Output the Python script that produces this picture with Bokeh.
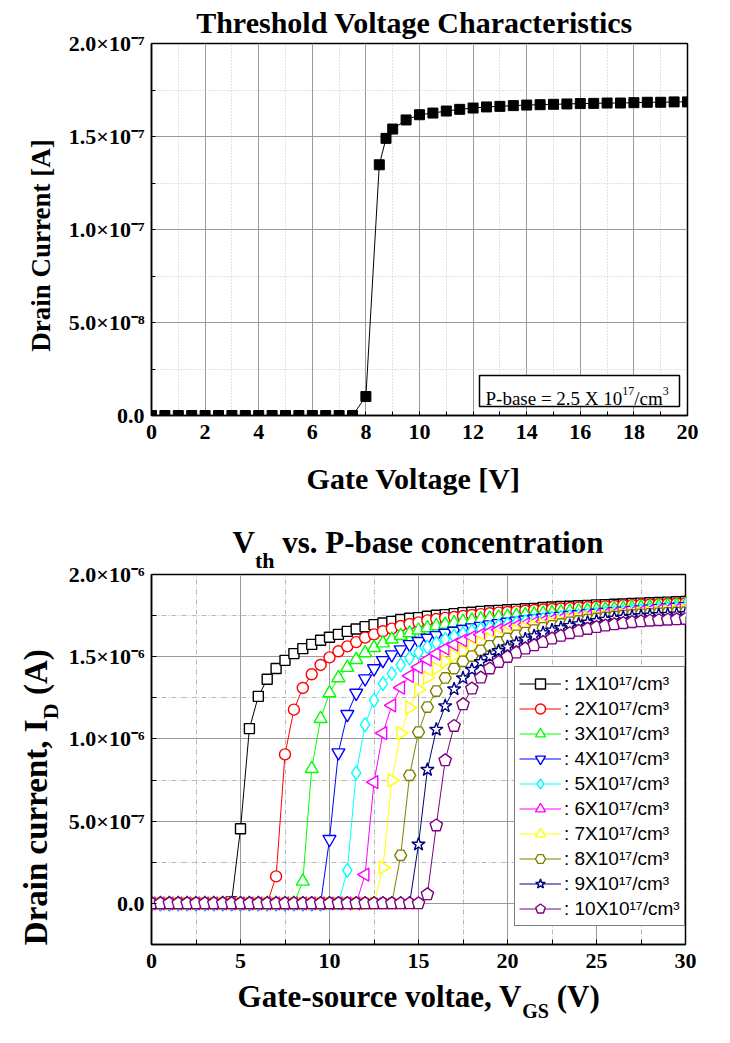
import math
from bokeh.plotting import figure
from bokeh.models import (ColumnDataSource, Legend, LegendItem, FixedTicker, BoxAnnotation,
                          Range1d, LinearAxis, Label)
from bokeh.layouts import column
from bokeh.embed import file_html
from bokeh.resources import INLINE

# ---------------- data: top chart (Threshold Voltage Characteristics) ----------------
gate_v = [0.0, 0.5, 1.0, 1.5, 2.0, 2.5, 3.0, 3.5, 4.0, 4.5, 5.0, 5.5, 6.0, 6.5, 7.0, 7.5,
          8.0, 8.5, 8.75, 9.0, 9.5, 10.0, 10.5, 11.0, 11.5, 12.0, 12.5, 13.0, 13.5, 14.0,
          14.5, 15.0, 15.5, 16.0, 16.5, 17.0, 17.5, 18.0, 18.5, 19.0, 19.5, 20.0]
drain_i = [0, 0, 0, 0, 0, 0, 0, 0, 0, 0, 0, 0, 0, 0, 0, 0,
           1.02e-8, 1.348e-7, 1.49e-7, 1.54e-7, 1.589e-7, 1.617e-7, 1.626e-7, 1.637e-7,
           1.646e-7, 1.653e-7, 1.659e-7, 1.662e-7, 1.666e-7, 1.669e-7, 1.671e-7, 1.673e-7,
           1.675e-7, 1.677e-7, 1.678e-7, 1.680e-7, 1.680e-7, 1.682e-7, 1.684e-7, 1.684e-7,
           1.686e-7, 1.686e-7]
top_x_ticks = [0, 2, 4, 6, 8, 10, 12, 14, 16, 18, 20]
top_x_minor = [1, 3, 5, 7, 9, 11, 13, 15, 17, 19]
top_y_ticks = [0.0, 5e-8, 1e-7, 1.5e-7, 2e-7]
top_y_minor = [2.5e-8, 7.5e-8, 1.25e-7, 1.75e-7]
top_y_labels = ["0.0", "5.0\u00d710\u207b\u2078", "1.0\u00d710\u207b\u2077", "1.5\u00d710\u207b\u2077",
                "2.0\u00d710\u207b\u2077"]

# ---------------- data: bottom chart (Vth vs. P-base concentration), current in uA ----------------
vgs = [0.0, 0.5, 1.0, 1.5, 2.0, 2.5, 3.0, 3.5, 4.0, 4.5, 5.0, 5.5, 6.0, 6.5, 7.0, 7.5, 8.0, 8.5,
       9.0, 9.5, 10.0, 10.5, 11.0, 11.5, 12.0, 12.5, 13.0, 13.5, 14.0, 14.5, 15.0, 15.5, 16.0,
       16.5, 17.0, 17.5, 18.0, 18.5, 19.0, 19.5, 20.0, 20.5, 21.0, 21.5, 22.0, 22.5, 23.0, 23.5,
       24.0, 24.5, 25.0, 25.5, 26.0, 26.5, 27.0, 27.5, 28.0, 28.5, 29.0, 29.5, 30.0]
id_1e17 = [0, 0, 0, 0, 0, 0, 0, 0, 0, 0.01,
           0.454, 1.063, 1.259, 1.363, 1.428, 1.478, 1.519, 1.549, 1.575, 1.600,
           1.618, 1.636, 1.654, 1.669, 1.683, 1.695, 1.705, 1.715, 1.726, 1.734,
           1.738, 1.746, 1.752, 1.756, 1.762, 1.768, 1.770, 1.776, 1.780, 1.782,
           1.786, 1.788, 1.792, 1.794, 1.799, 1.802, 1.805, 1.807, 1.810, 1.812,
           1.815, 1.817, 1.819, 1.821, 1.824, 1.826, 1.828, 1.830, 1.832, 1.834,
           1.836]
id_2e17 = [0, 0, 0, 0, 0, 0, 0, 0, 0, 0,
           0, 0, 0, 0, 0.164, 0.906, 1.178, 1.310, 1.393, 1.450,
           1.496, 1.533, 1.563, 1.589, 1.616, 1.636, 1.655, 1.671, 1.687, 1.699,
           1.709, 1.721, 1.729, 1.736, 1.742, 1.748, 1.754, 1.759, 1.764, 1.768,
           1.772, 1.776, 1.780, 1.784, 1.787, 1.790, 1.793, 1.796, 1.799, 1.802,
           1.804, 1.807, 1.809, 1.812, 1.814, 1.816, 1.818, 1.820, 1.822, 1.824,
           1.826]
id_3e17 = [0, 0, 0, 0, 0, 0, 0, 0, 0, 0,
           0, 0, 0, 0, 0, 0, 0, 0.134, 0.819, 1.123,
           1.279, 1.371, 1.434, 1.482, 1.523, 1.555, 1.583, 1.606, 1.628, 1.644,
           1.661, 1.675, 1.687, 1.697, 1.706, 1.714, 1.721, 1.728, 1.734, 1.740,
           1.745, 1.750, 1.755, 1.759, 1.763, 1.767, 1.771, 1.775, 1.778, 1.782,
           1.785, 1.788, 1.791, 1.794, 1.797, 1.800, 1.803, 1.806, 1.809, 1.812,
           1.815]
id_4e17 = [0, 0, 0, 0, 0, 0, 0, 0, 0, 0,
           0, 0, 0, 0, 0, 0, 0, 0, 0, 0,
           0.390, 0.917, 1.150, 1.279, 1.367, 1.428, 1.478, 1.513, 1.543, 1.575,
           1.594, 1.614, 1.630, 1.644, 1.656, 1.667, 1.677, 1.686, 1.695, 1.703,
           1.711, 1.718, 1.725, 1.731, 1.737, 1.742, 1.747, 1.752, 1.757, 1.762,
           1.766, 1.770, 1.774, 1.778, 1.782, 1.786, 1.790, 1.794, 1.798, 1.802,
           1.806]
id_5e17 = [0, 0, 0, 0, 0, 0, 0, 0, 0, 0,
           0, 0, 0, 0, 0, 0, 0, 0, 0, 0,
           0, 0, 0.201, 0.793, 1.087, 1.235, 1.336, 1.397, 1.450, 1.492,
           1.527, 1.559, 1.583, 1.606, 1.625, 1.641, 1.655, 1.667, 1.678, 1.688,
           1.697, 1.705, 1.713, 1.720, 1.727, 1.733, 1.739, 1.744, 1.749, 1.754,
           1.759, 1.763, 1.767, 1.771, 1.775, 1.779, 1.783, 1.787, 1.790, 1.793,
           1.796]
id_6e17 = [0, 0, 0, 0, 0, 0, 0, 0, 0, 0,
           0, 0, 0, 0, 0, 0, 0, 0, 0, 0,
           0, 0, 0, 0, 0.175, 0.738, 1.036, 1.204, 1.312, 1.383,
           1.437, 1.482, 1.519, 1.549, 1.574, 1.600, 1.619, 1.635, 1.650, 1.663,
           1.675, 1.686, 1.696, 1.705, 1.713, 1.721, 1.728, 1.734, 1.740, 1.746,
           1.751, 1.756, 1.761, 1.765, 1.769, 1.773, 1.777, 1.780, 1.783, 1.786,
           1.789]
id_7e17 = [0, 0, 0, 0, 0, 0, 0, 0, 0, 0,
           0, 0, 0, 0, 0, 0, 0, 0, 0, 0,
           0, 0, 0, 0, 0, 0, 0.217, 0.748, 1.035, 1.190,
           1.300, 1.373, 1.430, 1.472, 1.507, 1.535, 1.563, 1.587, 1.608, 1.627,
           1.644, 1.659, 1.673, 1.685, 1.696, 1.706, 1.715, 1.723, 1.730, 1.736,
           1.742, 1.747, 1.752, 1.756, 1.760, 1.764, 1.768, 1.771, 1.774, 1.777,
           1.780]
id_8e17 = [0, 0, 0, 0, 0, 0, 0, 0, 0, 0,
           0, 0, 0, 0, 0, 0, 0, 0, 0, 0,
           0, 0, 0, 0, 0, 0, 0, 0, 0.292, 0.779,
           1.042, 1.194, 1.291, 1.371, 1.428, 1.472, 1.504, 1.539, 1.566, 1.590,
           1.611, 1.630, 1.647, 1.662, 1.676, 1.688, 1.699, 1.709, 1.718, 1.726,
           1.733, 1.739, 1.745, 1.750, 1.754, 1.758, 1.761, 1.764, 1.767, 1.769,
           1.771]
id_9e17 = [0, 0, 0, 0, 0, 0, 0, 0, 0, 0,
           0, 0, 0, 0, 0, 0, 0, 0, 0, 0,
           0, 0, 0, 0, 0, 0, 0, 0, 0, 0,
           0.359, 0.813, 1.057, 1.200, 1.303, 1.370, 1.421, 1.468, 1.502, 1.535,
           1.559, 1.583, 1.606, 1.626, 1.644, 1.661, 1.675, 1.688, 1.699, 1.709,
           1.718, 1.726, 1.733, 1.739, 1.744, 1.748, 1.751, 1.754, 1.756, 1.758,
           1.760]
id_10e17 = [0, 0, 0, 0, 0, 0, 0, 0, 0, 0,
            0, 0, 0, 0, 0, 0, 0, 0, 0, 0,
            0, 0, 0, 0, 0, 0, 0, 0, 0, 0,
            0.0, 0.055, 0.474, 0.870, 1.079, 1.210, 1.306, 1.373, 1.428, 1.468,
            1.498, 1.525, 1.549, 1.569, 1.589, 1.610, 1.627, 1.643, 1.657, 1.669,
            1.680, 1.689, 1.697, 1.704, 1.710, 1.715, 1.719, 1.722, 1.725, 1.727,
            1.729]
conc_labels = [": 1X10\u00b9\u2077/cm\u00b3", ": 2X10\u00b9\u2077/cm\u00b3", ": 3X10\u00b9\u2077/cm\u00b3",
               ": 4X10\u00b9\u2077/cm\u00b3", ": 5X10\u00b9\u2077/cm\u00b3", ": 6X10\u00b9\u2077/cm\u00b3",
               ": 7X10\u00b9\u2077/cm\u00b3", ": 8X10\u00b9\u2077/cm\u00b3", ": 9X10\u00b9\u2077/cm\u00b3",
               ": 10X10\u00b9\u2077/cm\u00b3"]
series_vals = [id_1e17, id_2e17, id_3e17, id_4e17, id_5e17, id_6e17, id_7e17, id_8e17, id_9e17, id_10e17]
series_colors = ["#000000", "#ff0000", "#00ff00", "#0000ff", "#00ffff", "#ff00ff",
                 "#ffff00", "#808000", "#000080", "#800080"]
series_markers = ["square", "circle", "triangle", "inverted_triangle", "diamond", "triangle_left",
                  "triangle_right", "hex", "star", "pentagon"]
series_sizes = [10, 11, 13, 13, 14, 13, 13, 12, 14, 13]
bot_x_ticks = [0, 5, 10, 15, 20, 25, 30]
bot_x_minor = [2.5, 7.5, 12.5, 17.5, 22.5, 27.5]
bot_y_ticks = [0.0, 5e-7, 1e-6, 1.5e-6, 2e-6]
bot_y_minor = [-2.5e-7, 2.5e-7, 7.5e-7, 1.25e-6, 1.75e-6]
bot_y_labels = ["0.0", "5.0\u00d710\u207b\u2077", "1.0\u00d710\u207b\u2076", "1.5\u00d710\u207b\u2076",
                "2.0\u00d710\u207b\u2076"]

SERIF = "Liberation Serif"

# Times-Bold advance widths (per 1000 em), used only to place multi-part labels
TB = {" ": 250, "(": 333, ")": 333, ",": 250, "-": 333, ".": 250, "/": 278, "[": 333, "]": 333,
      "A": 722, "C": 722, "D": 722, "G": 778, "I": 389, "P": 611, "S": 556, "T": 667, "V": 722,
      "X": 722, "a": 500, "b": 556, "c": 444, "d": 556, "e": 444, "g": 500, "h": 556, "i": 278,
      "l": 278, "n": 556, "o": 500, "r": 444, "s": 389, "t": 333, "u": 556, "v": 500, "m": 833}
TR = {" ": 250, "P": 556, "-": 333, "b": 500, "a": 444, "s": 389, "e": 444, "=": 564, ".": 250,
      "X": 722, "/": 278, "c": 444, "m": 778}


def tw(s, size, table=TB):
    return sum(table.get(ch, 500) for ch in s) * size / 1000.0


def style_axes(p, xt, xm, yt, ym, ylabels, tick_len, minor_dash, minor_color):
    p.xaxis.ticker = FixedTicker(ticks=xt, minor_ticks=xm)
    p.yaxis.ticker = FixedTicker(ticks=yt, minor_ticks=ym)
    for ax in (p.xaxis, p.yaxis):
        ax.axis_line_color = "black"
        ax.axis_line_width = 1.5
        ax.major_tick_in = tick_len
        ax.major_tick_out = 0
        ax.minor_tick_in = tick_len
        ax.minor_tick_out = 0
        ax.major_tick_line_color = "black"
        ax.minor_tick_line_color = "black"
        ax.major_label_text_font = SERIF
        ax.major_label_text_font_style = "bold"
        ax.major_label_text_font_size = "22px"
        ax.major_label_text_color = "black"
    p.xaxis.major_label_standoff = 9
    p.yaxis.major_label_standoff = 7
    p.yaxis.major_label_overrides = {t: s for t, s in zip(yt, ylabels)}
    for g in (p.xgrid, p.ygrid):
        g.grid_line_color = "#9a9a9a"
        g.grid_line_width = 1
        g.minor_grid_line_color = minor_color
        g.minor_grid_line_width = 1
        g.minor_grid_line_dash = minor_dash
    p.outline_line_color = "black"
    p.outline_line_width = 1.5
    p.background_fill_color = "white"
    p.border_fill_color = "white"


def text_axis(p, side, rng, pieces, size, standoff, orient="horizontal", style="bold"):
    """An axis without line/ticks, used only to place text pieces (pos, text) in a side panel."""
    pos = [round(a, 1) for a, _ in pieces]
    if side in ("above", "below"):
        ax = LinearAxis(x_range_name=rng)
    else:
        ax = LinearAxis(y_range_name=rng)
    ax.ticker = FixedTicker(ticks=pos, minor_ticks=[])
    ax.major_label_overrides = {a: t for a, (_, t) in zip(pos, pieces)}
    ax.major_label_orientation = orient
    ax.major_label_standoff = standoff
    ax.major_label_text_font = SERIF
    ax.major_label_text_font_style = style
    ax.major_label_text_font_size = f"{size}px"
    ax.major_label_text_color = "black"
    ax.axis_line_color = None
    ax.major_tick_line_color = None
    ax.minor_tick_line_color = None
    ax.major_tick_in = 0
    ax.major_tick_out = 0
    ax.minor_tick_in = 0
    ax.minor_tick_out = 0
    p.add_layout(ax, side)
    return ax


# ======================= TOP FIGURE =======================
FL1, FR1, FT1, FB1 = 150, 686, 43, 415
p1 = figure(frame_width=FR1 - FL1, frame_height=FB1 - FT1, x_range=Range1d(0, 20),
            y_range=Range1d(0, 2e-7), min_border_left=FL1, min_border_right=36,
            min_border_top=FT1, min_border_bottom=90,
            output_backend="svg", toolbar_location=None, title=None)
p1.extra_x_ranges = {"px": Range1d(FL1, FR1)}
p1.extra_y_ranges = {"py": Range1d(FB1, FT1)}
style_axes(p1, top_x_ticks, top_x_minor, top_y_ticks, top_y_minor, top_y_labels, 4, "1 2", "#c4c4c4")

src1 = ColumnDataSource(dict(x=gate_v, y=drain_i))
p1.line("x", "y", source=src1, line_color="black", line_width=1)
p1.scatter("x", "y", source=src1, marker="square", size=10, fill_color="black", line_color="black")


def td1(px, py):
    return (px - FL1) / (FR1 - FL1) * 20.0, (FB1 - py) / (FB1 - FT1) * 2e-7


# P-base annotation box (inside the frame)
bx0, by0 = td1(478, 406)
bx1, by1 = td1(678, 375)
p1.add_layout(BoxAnnotation(left=bx0, right=bx1, bottom=by0, top=by1, fill_color="white",
                            fill_alpha=1.0, line_color="black", line_width=1.5, line_alpha=1.0))
pb_parts = [("P-base = 2.5 X 10", 19, 0), ("17", 12, 8), ("/cm", 19, 0), ("3", 12, 8)]
xs = 484
for txt, sz, rise in pb_parts:
    lx, ly = td1(xs, 398 - rise)
    p1.add_layout(Label(x=lx, y=ly, text=txt, text_font=SERIF, text_font_size=f"{sz}px",
                        text_color="black", text_baseline="alphabetic", text_align="left"))
    xs += tw(txt, sz, TR)

# title, x label, y label
text_axis(p1, "above", "px", [(413, "Threshold Voltage Characteristics")], 30, 5)
text_axis(p1, "below", "px", [(412, "Gate Voltage [V]")], 30, 20)
text_axis(p1, "left", "py", [(245, "Drain Current [A]")], 27, 10, orient="parallel")

# ======================= BOTTOM FIGURE =======================
FL2, FR2, FT2, FB2 = 151, 685, 69, 439  # in figure pixels
PAGE_Y2 = 505
p2 = figure(frame_width=FR2 - FL2, frame_height=FB2 - FT2, x_range=Range1d(0, 30),
            y_range=Range1d(-2.5e-7, 2e-6), min_border_left=FL2, min_border_right=37,
            min_border_top=FT2, min_border_bottom=90,
            output_backend="svg", toolbar_location=None, title=None)
p2.extra_x_ranges = {"px": Range1d(FL2, FR2)}
p2.extra_y_ranges = {"py": Range1d(PAGE_Y2 + FB2, PAGE_Y2 + FT2)}
style_axes(p2, bot_x_ticks, bot_x_minor, bot_y_ticks, bot_y_minor, bot_y_labels, 5, "5 2 1 2", "#b8b8b8")

items = []
for vals, color, marker, size, lab in zip(series_vals, series_colors, series_markers, series_sizes,
                                          conc_labels):
    src = ColumnDataSource(dict(x=vgs, y=[v * 1e-6 for v in vals]))
    lr = p2.line("x", "y", source=src, line_color=color, line_width=1)
    kw = dict(source=src, fill_color="white", line_color=color, line_width=1.4)
    if marker == "triangle_left":
        mr = p2.scatter("x", "y", marker="triangle", angle=math.pi / 2, size=size, **kw)
    elif marker == "triangle_right":
        mr = p2.scatter("x", "y", marker="triangle", angle=-math.pi / 2, size=size, **kw)
    elif marker == "pentagon":
        try:
            mr = p2.ngon("x", "y", radius=size / 2.0, radius_units="screen", n=5, **kw)
        except Exception:
            mr = p2.scatter("x", "y", marker="hex", size=size, **kw)
    else:
        mr = p2.scatter("x", "y", marker=marker, size=size, **kw)
    items.append(LegendItem(label=lab, renderers=[lr, mr]))

legend = Legend(items=items, location=(363, 18), orientation="vertical")
legend.label_text_font = "Liberation Sans"
legend.label_text_font_size = "19px"
legend.label_text_color = "black"
legend.glyph_width = 42
legend.glyph_height = 25
legend.label_height = 25
legend.label_standoff = 3
legend.spacing = 0
legend.padding = 4
legend.margin = 0
legend.border_line_color = "black"
legend.border_line_width = 1.5
legend.background_fill_color = "white"
legend.background_fill_alpha = 1.0
p2.add_layout(legend)

# bottom title: V_th vs. P-base concentration
x0 = 232
w_v, w_th = tw("V", 31), tw("th", 22)
t_rest = "vs. P-base concentration"
text_axis(p2, "above", "px", [(x0 + w_v + w_th / 2, "th")], 22, 2)
text_axis(p2, "above", "px", [(x0 + w_v / 2, "V"),
                              (x0 + w_v + w_th + tw(" ", 31) + tw(t_rest, 31) / 2, t_rest)], 31, -15)

# bottom x label: Gate-source voltae, V_GS (V)
a1, a2, a3 = "Gate-source voltae, V", "GS", "(V)"
w1, w2, w3 = tw(a1, 31), tw(a2, 20), tw(a3, 31)
xs = 418 - (w1 + w2 + tw(" ", 31) + w3) / 2
text_axis(p2, "below", "px", [(xs + w1 / 2, a1), (xs + w1 + w2 + tw(" ", 31) + w3 / 2, a3)], 31, 8)
text_axis(p2, "below", "px", [(xs + w1 + w2 / 2, a2)], 20, -17)

# bottom y label (rotated): Drain current, I_D (A)
b1, b2, b3 = "Drain current, I", "D", "(A)"
v1, v2, v3 = tw(b1, 33), tw(b2, 22), tw(b3, 33)
ys = 945
text_axis(p2, "left", "py", [(ys - v1 - v2 / 2, b2)], 22, 2, orient="parallel")
text_axis(p2, "left", "py", [(ys - v1 / 2, b1), (ys - v1 - v2 - tw(" ", 33) - v3 / 2, b3)], 33, -19,
          orient="parallel")

layout = column(p1, p2, spacing=0)
open("out.html", "w").write(file_html(layout, INLINE))
